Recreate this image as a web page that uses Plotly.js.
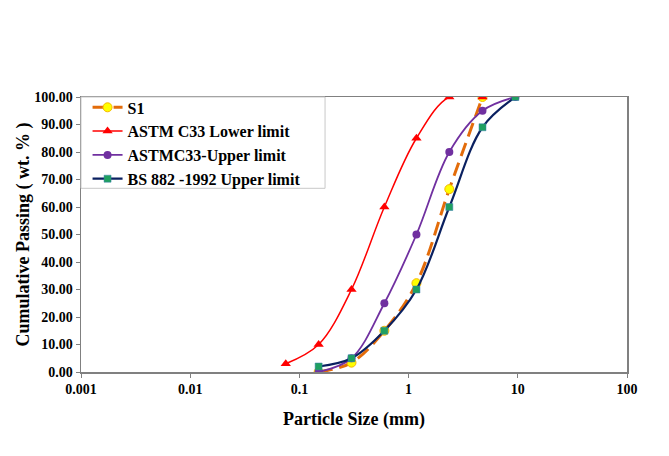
<!DOCTYPE html>
<html>
<head>
<meta charset="utf-8">
<script src="https://cdn.plot.ly/plotly-3.0.1.min.js"></script>
<style>
  html, body { margin: 0; padding: 0; background: #fff; }
  #chart { width: 669px; height: 456px; }
</style>
</head>
<body>
<div id="chart"></div>
<script>
// Sieve sizes (mm) and cumulative passing (wt. %)
const s1Size = [0.15, 0.3, 0.6, 1.18, 2.36, 4.75];
const s1Pass = [0, 3.4, 15, 32.3, 66.5, 100];

const astmLowerSize = [0.075, 0.15, 0.3, 0.6, 1.18, 2.36, 4.75];
const astmLowerPass = [3, 10, 30, 60, 85, 100, 100];

const astmUpperSize = [0.15, 0.3, 0.6, 1.18, 2.36, 4.75, 9.5];
const astmUpperPass = [0, 5, 25, 50, 80, 95, 100];

const bsUpperSize = [0.15, 0.3, 0.6, 1.18, 2.36, 4.75, 9.5];
const bsUpperPass = [2, 5, 15, 30, 60, 89, 100];

const xTickVals = [0.001, 0.01, 0.1, 1, 10, 100];
const xTickText = ['0.001', '0.01', '0.1', '1', '10', '100'];

const seriesNames = ['S1', 'ASTM C33 Lower limit', 'ASTMC33-Upper limit', 'BS 882 -1992 Upper limit'];

const serif = 'Liberation Serif, Times New Roman, serif';

const traces = [
  {
    x: s1Size, y: s1Pass, name: seriesNames[0], mode: 'lines+markers',
    line: { color: '#E36C0A', width: 3, dash: '14px,7px', shape: 'spline', smoothing: 1 },
    marker: { symbol: 'circle', size: 9, color: '#FFFF00', line: { color: '#F5B800', width: 1 } }
  },
  {
    x: astmLowerSize, y: astmLowerPass, name: seriesNames[1], mode: 'lines+markers',
    line: { color: '#FF0000', width: 1.5, shape: 'spline', smoothing: 1 },
    marker: { symbol: 'triangle-up', size: 9, color: '#FF0000' }
  },
  {
    x: astmUpperSize, y: astmUpperPass, name: seriesNames[2], mode: 'lines+markers',
    line: { color: '#7030A0', width: 1.8, shape: 'spline', smoothing: 1 },
    marker: { symbol: 'circle', size: 8, color: '#7030A0' }
  },
  {
    x: bsUpperSize, y: bsUpperPass, name: seriesNames[3], mode: 'lines+markers',
    line: { color: '#0A2060', width: 2.2, shape: 'spline', smoothing: 1 },
    marker: { symbol: 'square', size: 7, color: '#1FA060', line: { color: '#3A7FB0', width: 0.5 } }
  }
];

// Legend frame: spans from the y axis to the right of the legend text
const legendFrame = {
  type: 'rect', xref: 'paper', yref: 'paper', layer: 'above',
  x0: 0, x1: 0.447, y0: 0.668, y1: 1,
  line: { color: '#C8C8C8', width: 1 }
};

const layout = {
  width: 669,
  height: 456,
  margin: { l: 81, r: 42, t: 97, b: 84 },
  paper_bgcolor: '#ffffff',
  plot_bgcolor: '#ffffff',
  showlegend: true,
  font: { family: serif, color: '#000000' },
  shapes: [legendFrame],
  xaxis: {
    type: 'log',
    range: [-3, 2],
    tickvals: xTickVals,
    ticktext: xTickText,
    ticks: 'outside',
    ticklen: 4,
    tickcolor: '#808080',
    showgrid: false,
    zeroline: false,
    showline: true,
    linecolor: '#808080',
    linewidth: 1.5,
    mirror: true,
    tickfont: { family: serif, size: 14, color: '#000', weight: 'bold' },
    title: { text: '<b>Particle Size (mm)</b>', font: { family: serif, size: 18, color: '#000' }, standoff: 16 }
  },
  yaxis: {
    range: [0, 100],
    dtick: 10,
    tickformat: '.2f',
    ticks: 'outside',
    ticklen: 4,
    tickcolor: '#808080',
    showgrid: false,
    zeroline: false,
    showline: true,
    linecolor: '#808080',
    linewidth: 1.5,
    mirror: true,
    tickfont: { family: serif, size: 14, color: '#000', weight: 'bold' },
    title: { text: '<b>Cumulative Passing ( wt. % )</b>', font: { family: serif, size: 18, color: '#000' }, standoff: 0 }
  },
  legend: {
    x: 0.012, y: 1.024, xanchor: 'left', yanchor: 'top',
    bgcolor: 'rgba(0,0,0,0)',
    borderwidth: 0,
    font: { family: serif, size: 16, color: '#000', weight: 'bold' },
    tracegroupgap: 0
  }
};

Plotly.newPlot('chart', traces, layout, { displayModeBar: false, staticPlot: true });
</script>
</body>
</html>
